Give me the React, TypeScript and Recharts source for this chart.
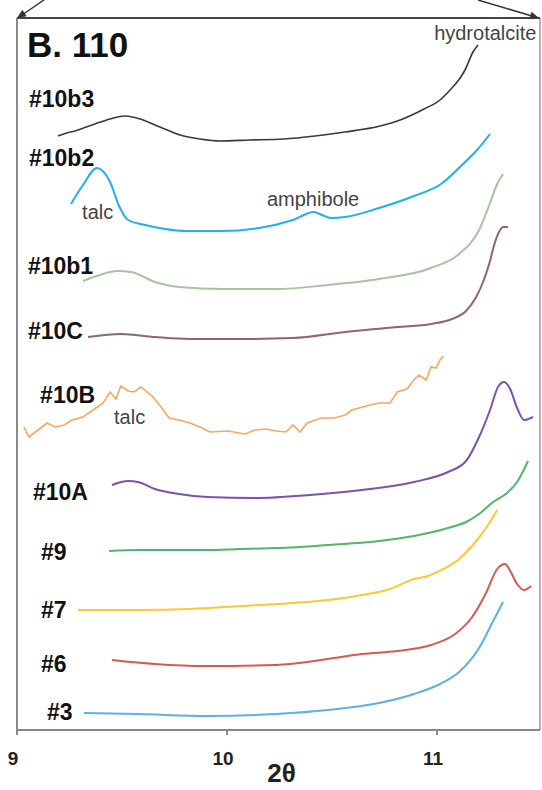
import React from 'react'
import { LineChart, Line, XAxis, YAxis, ReferenceLine, ReferenceDot } from 'recharts'

// XRD traces, 2θ vs. stacked intensity (a.u., offset per sample)
const s10b3 = [
  [9.195, 594], [9.236, 597], [9.276, 599], [9.33, 603], [9.371, 606], [9.443, 611], [9.514, 614],
  [9.55, 613], [9.586, 611], [9.681, 603], [9.776, 595], [9.871, 591], [9.967, 589], [10.11, 590],
  [10.267, 591], [10.419, 594], [10.562, 598], [10.729, 604], [10.824, 610], [10.938, 621],
  [11.014, 630], [11.062, 640], [11.11, 652], [11.133, 660], [11.171, 678], [11.195, 685],
]
const s10b2 = [
  [9.257, 526], [9.314, 545], [9.381, 562], [9.443, 548], [9.486, 524], [9.529, 510],
  [9.61, 505], [9.705, 501], [9.805, 499], [9.971, 499], [10.152, 502], [10.314, 510],
  [10.414, 518], [10.452, 515], [10.495, 512], [10.562, 513], [10.724, 522], [10.89, 534],
  [11.019, 546], [11.119, 565], [11.186, 579], [11.252, 596],
]
const s10b1 = [
  [9.314, 449], [9.395, 455], [9.476, 459], [9.543, 458], [9.657, 448], [9.771, 443],
  [9.986, 441], [10.233, 441], [10.481, 445], [10.724, 451], [10.971, 462], [11.105, 476],
  [11.2, 500], [11.252, 527], [11.286, 546], [11.314, 556],
]
const s10C = [
  [9.338, 393], [9.495, 396], [9.657, 393], [9.824, 391], [10.067, 391], [10.314, 392],
  [10.562, 398], [10.81, 403], [10.971, 406], [11.071, 411], [11.138, 419], [11.186, 433],
  [11.219, 448], [11.248, 466], [11.276, 488], [11.3, 500], [11.314, 503], [11.338, 503],
]
const s10B = [
  [9.033, 303], [9.057, 293], [9.1, 300], [9.143, 307], [9.181, 303], [9.224, 305],
  [9.262, 310], [9.314, 313], [9.362, 320], [9.41, 327], [9.443, 338], [9.471, 331],
  [9.495, 344], [9.529, 339], [9.557, 338], [9.59, 343], [9.643, 334], [9.69, 322],
  [9.724, 312], [9.771, 310], [9.824, 307], [9.871, 303], [9.919, 298], [10.005, 299],
  [10.086, 296], [10.133, 300], [10.186, 301], [10.233, 299], [10.281, 298], [10.314, 305],
  [10.348, 298], [10.381, 307], [10.448, 312], [10.51, 312], [10.562, 315], [10.595, 320],
  [10.662, 324], [10.724, 327], [10.776, 327], [10.81, 338], [10.857, 341], [10.89, 350],
  [10.914, 355], [10.948, 350], [10.971, 363], [10.995, 362], [11.014, 370], [11.029, 374],
]
const s10A = [
  [9.452, 245], [9.529, 249], [9.576, 248], [9.657, 241], [9.771, 236], [9.905, 233],
  [10.133, 232], [10.395, 235], [10.643, 240], [10.89, 248], [11.052, 258], [11.138, 269],
  [11.2, 293], [11.252, 320], [11.29, 343], [11.319, 348], [11.348, 341], [11.381, 322],
  [11.414, 310], [11.457, 313],
]
const s9 = [
  [9.438, 179], [9.576, 180], [9.752, 180], [9.905, 180], [10.062, 181], [10.233, 182],
  [10.348, 183], [10.481, 185], [10.62, 187], [10.724, 189], [10.89, 194], [11.052, 202],
  [11.138, 208], [11.2, 216], [11.267, 228], [11.333, 237], [11.381, 248], [11.433, 269],
]
const s7 = [
  [9.29, 120], [9.41, 120], [9.576, 120], [9.824, 121], [10.067, 124], [10.314, 127],
  [10.481, 130], [10.643, 135], [10.776, 141], [10.89, 151], [10.957, 154], [11.0, 158],
  [11.105, 171], [11.186, 189], [11.233, 202], [11.286, 220],
]
const s6 = [
  [9.452, 70], [9.657, 66], [9.905, 64], [10.233, 65], [10.481, 71], [10.643, 76],
  [10.81, 79], [10.971, 85], [11.086, 96], [11.167, 113], [11.233, 137], [11.286, 161],
  [11.324, 166], [11.348, 159], [11.381, 146], [11.414, 140], [11.448, 144],
]
const s3 = [
  [9.319, 17], [9.576, 16], [9.905, 14], [10.233, 16], [10.481, 20], [10.724, 27],
  [10.89, 36], [11.014, 46], [11.105, 58], [11.2, 82], [11.267, 109], [11.314, 128],
]

const xTicks = [9, 10, 11]

const series = [
  { name: '#10b3', pts: s10b3, color: '#3a3a3a', width: 1.6 },
  { name: '#10b2', pts: s10b2, color: '#1eb1ec', width: 2 },
  { name: '#10b1', pts: s10b1, color: '#a7c4a1', width: 2 },
  { name: '#10C', pts: s10C, color: '#8e6767', width: 2 },
  { name: '#10B', pts: s10B, color: '#f9a75e', width: 1.6, jagged: true },
  { name: '#10A', pts: s10A, color: '#7c52b0', width: 2 },
  { name: '#9', pts: s9, color: '#4fb767', width: 2 },
  { name: '#7', pts: s7, color: '#fec832', width: 2 },
  { name: '#6', pts: s6, color: '#d75a50', width: 2 },
  { name: '#3', pts: s3, color: '#5eb0e8', width: 2 },
]

// where the sample names and mineral notes sit (left edge, vertical middle)
const sampleLabels = [
  { text: 'B. 110', x: 9.048, y: 685, size: 35 },
  { text: '#10b3', x: 9.057, y: 631, size: 23 },
  { text: '#10b2', x: 9.057, y: 572, size: 23 },
  { text: '#10b1', x: 9.052, y: 464, size: 23 },
  { text: '#10C', x: 9.052, y: 399, size: 23 },
  { text: '#10B', x: 9.11, y: 335, size: 23 },
  { text: '#10A', x: 9.076, y: 238, size: 23 },
  { text: '#9', x: 9.114, y: 178, size: 23 },
  { text: '#7', x: 9.114, y: 120, size: 23 },
  { text: '#6', x: 9.114, y: 66, size: 23 },
  { text: '#3', x: 9.143, y: 18, size: 23 },
]
const notes = [
  { text: 'hydrotalcite', x: 10.986, y: 697 },
  { text: 'talc', x: 9.31, y: 518 },
  { text: 'amphibole', x: 10.19, y: 531 },
  { text: 'talc', x: 9.462, y: 313 },
]

export default function App() {
  return (
    <div
      style={{
        position: 'absolute',
        left: 0,
        top: 0,
        width: 542,
        height: 790,
        background: '#fff',
        fontFamily: '"Liberation Sans", Arial, sans-serif',
      }}
    >
      <LineChart width={542} height={790} margin={{ top: 18, right: 2, left: 17, bottom: 0 }}>
        <XAxis
          type="number"
          dataKey="x"
          domain={[9, 11.49]}
          ticks={xTicks}
          allowDataOverflow
          height={60}
          axisLine={{ stroke: '#888', strokeWidth: 2 }}
          tickLine={{ stroke: '#888', strokeWidth: 2 }}
          tickSize={5}
          tickMargin={17}
          tick={{ fontSize: 19, fontWeight: 'bold', fill: '#222', dx: -4 }}
          label={{ value: '2θ', position: 'insideBottom', offset: 8, fontSize: 26, fontWeight: 'bold', fill: '#222', dx: 3 }}
        />
        <YAxis type="number" dataKey="y" domain={[0, 712]} hide allowDataOverflow />
        <ReferenceLine x={9} stroke="#8a8a8a" strokeWidth={2} />
        <ReferenceLine x={11.49} stroke="#9a9a9a" strokeWidth={1.5} />
        <ReferenceLine y={712} stroke="#444" strokeWidth={2} />
        {series.map(s => (
          <Line
            key={s.name}
            data={s.pts.map(([x, y]) => ({ x, y }))}
            dataKey="y"
            type={s.jagged ? 'linear' : 'monotone'}
            stroke={s.color}
            strokeWidth={s.width}
            dot={false}
            isAnimationActive={false}
          />
        ))}
        {sampleLabels.map(l => (
          <ReferenceDot
            key={l.text}
            x={l.x}
            y={l.y}
            r={0}
            fill="none"
            stroke="none"
            label={{ value: l.text, position: 'right', offset: 0, fontSize: l.size, fontWeight: 'bold', fill: '#111' }}
          />
        ))}
        {notes.map((n, i) => (
          <ReferenceDot
            key={'n' + i}
            x={n.x}
            y={n.y}
            r={0}
            fill="none"
            stroke="none"
            label={{ value: n.text, position: 'right', offset: 0, fontSize: 20, fill: '#444' }}
          />
        ))}
      </LineChart>
      <svg
        width={542}
        height={790}
        style={{ position: 'absolute', left: 0, top: 0, pointerEvents: 'none' }}
      >
        <line x1={44} y1={0} x2={22} y2={15} stroke="#333" strokeWidth={1.5} />
        <polygon points="17,18 26.7,16.3 22.3,9.7" fill="#333" />
        <line x1={478} y1={0} x2={532} y2={16} stroke="#333" strokeWidth={1.5} />
        <polygon points="539,18 529.3,19.3 531.5,11.7" fill="#333" />
      </svg>
    </div>
  )
}
